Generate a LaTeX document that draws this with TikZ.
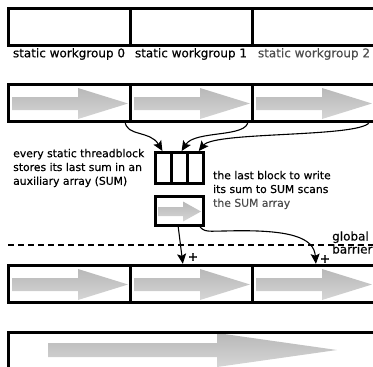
\documentclass[tikz,border=0pt]{standalone}
\usepackage{fontspec}
\setmainfont[FakeBold=0.4]{DejaVu Sans}
\usetikzlibrary{arrows.meta}
\tikzset{
  blk/.style={draw=black, line width=3pt, minimum width=122pt, minimum height=37pt, inner sep=0pt, outer sep=0pt, anchor=north west},
  cell/.style={blk, minimum width=16pt, minimum height=31pt},
  lbl/.style={inner sep=0pt, font=\fontsize{12}{14}\selectfont},
  desc/.style={inner sep=0pt, align=left, anchor=west, font=\fontsize{10.8}{13.8}\selectfont},
  plussign/.style={inner sep=0pt, font=\fontsize{12}{14}\selectfont\bfseries},
  conn/.style={draw=black, line width=1.1pt, -{Stealth[length=10pt,width=9pt,inset=2pt]}, shorten >=1.2pt},
  barrierline/.style={draw=black, line width=1.4pt, dash pattern=on 6pt off 4pt},
  fatshade/.style={top color=black!28, bottom color=black!16, draw=none},
  fatarrow/.pic={
    \shade[fatshade] (4,13) -- (70,13) -- (70,4) -- (120,19.5) -- (70,35) -- (70,26) -- (4,26) -- cycle;
  }
}
\begin{document}
\begin{tikzpicture}[x=1pt,y=-1pt]
\useasboundingbox (0,0) rectangle (373,367);
\clip (0,0) rectangle (373,367);

% row 1
\node[blk] (t0) at (8,8) {};
\node[blk] (t1) at (130,8) {};
\node[blk, minimum width=124pt] (t2) at (252,8) {};
\node[lbl] (l0) at (69,54) {static workgroup 0};
\node[lbl] (l1) at (191,54) {static workgroup 1};
\node[lbl, text=black!70] (l2) at (314,54) {static workgroup 2};

% row 2
\pic at (8,84) {fatarrow};
\pic at (130,84) {fatarrow};
\pic at (252,84) {fatarrow};
\node[blk] (r0) at (8,84) {};
\node[blk] (r1) at (130,84) {};
\node[blk, minimum width=124pt] (r2) at (252,84) {};

% auxiliary array
\node[cell] (c1) at (155,152) {};
\node[cell] (c2) at (171,152) {};
\node[cell] (c3) at (187,152) {};

% scan box
\shade[fatshade] (158,207) -- (183,207) -- (183,201.5) -- (201,211.5) -- (183,221.5) -- (183,216) -- (158,216) -- cycle;
\node[blk, minimum width=48pt, minimum height=29pt] (scan) at (155,196) {};

% texts
\node[desc] (d1) at (13,168) {every static threadblock\\stores its last sum in an\\auxiliary array (SUM)};
\node[desc] (d2) at (213,190) {the last block to write\\its sum to SUM scans\\\textcolor{black!70}{the SUM array}};

% barrier
\coordinate (bl) at (8,245);
\coordinate (br) at (380,245);
\draw[barrierline] (bl) -- (br);
\node[lbl, anchor=base west] (g1) at (332,240.5) {global};
\node[lbl, anchor=base west] (g2) at (332,253.5) {barrier};

% row 3
\pic at (8,265) {fatarrow};
\pic at (130,265) {fatarrow};
\pic at (252,265) {fatarrow};
\node[blk] (b0) at (8,265) {};
\node[blk] (b1) at (130,265) {};
\node[blk, minimum width=124pt] (b2) at (252,265) {};

% row 4
\shade[fatshade] (48,343) -- (217,343) -- (217,333) -- (337,350) -- (217,367) -- (217,357) -- (48,357) -- cycle;
\node[blk, minimum width=380pt, minimum height=60pt] (f) at (8,332) {};

% connectors
\draw[conn] ([xshift=-5pt]r0.south east) .. controls (126,137) and (150,130) .. (c1.north);
\draw[conn] ([xshift=-4pt]r1.south east) .. controls (248,138) and (195,130) .. ([xshift=2pt]c2.north);
\draw[conn] ([xshift=-6pt]r2.south east) .. controls (368,138) and (215,131) .. ([xshift=3pt]c3.north);
\draw[conn] ([xshift=23pt]scan.south west) -- ([xshift=53pt]b1.north west);
\draw[conn] ([xshift=-4pt]scan.south east) .. controls (203,233) and (210,231) .. (225,231) .. controls (292,229) and (314,238) .. ([xshift=64pt]b2.north west);
\node[plussign] (p1) at (193,257) {+};
\node[plussign] (p2) at (325,259) {+};
\end{tikzpicture}
\end{document}
